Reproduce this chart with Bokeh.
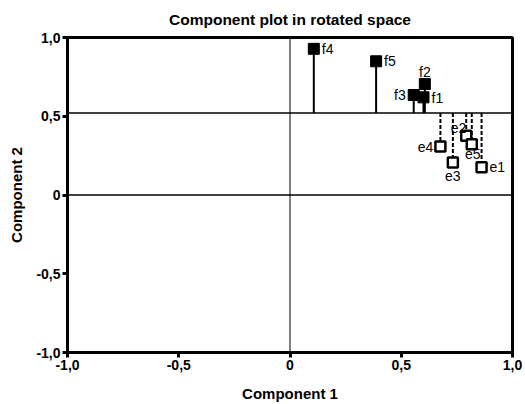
from bokeh.plotting import figure
from bokeh.models import Range1d, Span, FixedTicker, CustomJSTickFormatter, ColumnDataSource
from bokeh.core.properties import value
from bokeh.embed import file_html
from bokeh.resources import INLINE

# ---- data ----
title_text = "Component plot in rotated space"

f_labels = ["f1", "f2", "f3", "f4", "f5"]
f_x = [0.600, 0.606, 0.556, 0.107, 0.387]
f_y = [0.620, 0.705, 0.635, 0.928, 0.849]

e_labels = ["e1", "e2", "e3", "e4", "e5"]
e_x = [0.861, 0.792, 0.732, 0.676, 0.817]
e_y = [0.176, 0.376, 0.206, 0.308, 0.323]

threshold = 0.52
ticks = [-1.0, -0.5, 0.0, 0.5, 1.0]

# ---- label placement (style) ----
f_dx = [8, 0, -8, 8, 8]
f_dy = [1, -4, 0, 0, 0]
f_align = ["left", "center", "right", "left", "left"]
f_base = ["middle", "bottom", "middle", "middle", "middle"]

e_dx = [8, 0, 0, -7, 1]
e_dy = [0, -8, 8, 1, 5]
e_align = ["left", "right", "center", "right", "center"]
e_base = ["middle", "middle", "top", "middle", "top"]

FONT = "Liberation Sans"

p = figure(width=525, height=404, output_backend="svg", toolbar_location=None,
           x_range=Range1d(-1, 1), y_range=Range1d(-1, 1),
           min_border_left=67, min_border_right=13, min_border_top=37, min_border_bottom=52,
           title=title_text)

p.title.text_font = FONT
p.title.text_font_size = "15.5px"
p.title.text_font_style = "bold"
p.title.text_color = "black"
p.title.align = "center"
p.title.offset = 4
p.title.standoff = 15
p.title.vertical_align = "top"

p.xgrid.visible = False
p.ygrid.visible = False
p.outline_line_color = "black"
p.outline_line_width = 3
p.background_fill_color = "white"
p.border_fill_color = "white"

fmt = CustomJSTickFormatter(code="""
if (Math.abs(tick) < 1e-9) return '0';
return tick.toFixed(1).replace('.', ',');
""")
for ax in (p.xaxis[0], p.yaxis[0]):
    ax.ticker = FixedTicker(ticks=ticks)
    ax.formatter = fmt
    ax.minor_tick_line_color = None
    ax.major_tick_in = 0
    ax.major_tick_out = 5
    ax.major_tick_line_width = 3
    ax.major_tick_line_color = "black"
    ax.axis_line_width = 3
    ax.axis_line_color = "black"
    ax.major_label_text_font = FONT
    ax.major_label_text_font_style = "bold"
    ax.major_label_text_font_size = "14px"
    ax.major_label_text_color = "black"
    ax.axis_label_text_font = FONT
    ax.axis_label_text_font_style = "bold"
    ax.axis_label_text_font_size = "15px"
    ax.axis_label_text_color = "black"
    ax.major_label_standoff = 2

p.xaxis.axis_label = "Component 1"
p.yaxis.axis_label = "Component 2"
p.yaxis.major_label_orientation = "horizontal"
p.xaxis.axis_label_standoff = 12
p.yaxis.axis_label_standoff = 8

p.add_layout(Span(location=0, dimension="height", line_color="black", line_width=1))
p.add_layout(Span(location=0, dimension="width", line_color="black", line_width=1.5))
p.add_layout(Span(location=threshold, dimension="width", line_color="black", line_width=1.5))

# stems
p.segment(x0=f_x, y0=[threshold] * len(f_x), x1=f_x, y1=f_y, line_color="black", line_width=2)
p.segment(x0=e_x, y0=[threshold] * len(e_x), x1=e_x, y1=e_y, line_color="black", line_width=2,
          line_dash="4 2")

# markers
p.scatter(f_x, f_y, marker="square", size=11, fill_color="black", line_color="black", line_width=1)
p.scatter(e_x, e_y, marker="square", size=10, fill_color="white", line_color="black", line_width=2.5)

fsrc = ColumnDataSource(dict(x=f_x, y=f_y, t=f_labels, dx=f_dx, dy=f_dy, a=f_align, b=f_base))
esrc = ColumnDataSource(dict(x=e_x, y=e_y, t=e_labels, dx=e_dx, dy=e_dy, a=e_align, b=e_base))
for src in (fsrc, esrc):
    p.text(x="x", y="y", text="t", x_offset="dx", y_offset="dy", text_align="a", text_baseline="b",
           source=src, text_font=value(FONT), text_font_size="14px", text_color="black")

open("out.html", "w").write(file_html(p, INLINE))
